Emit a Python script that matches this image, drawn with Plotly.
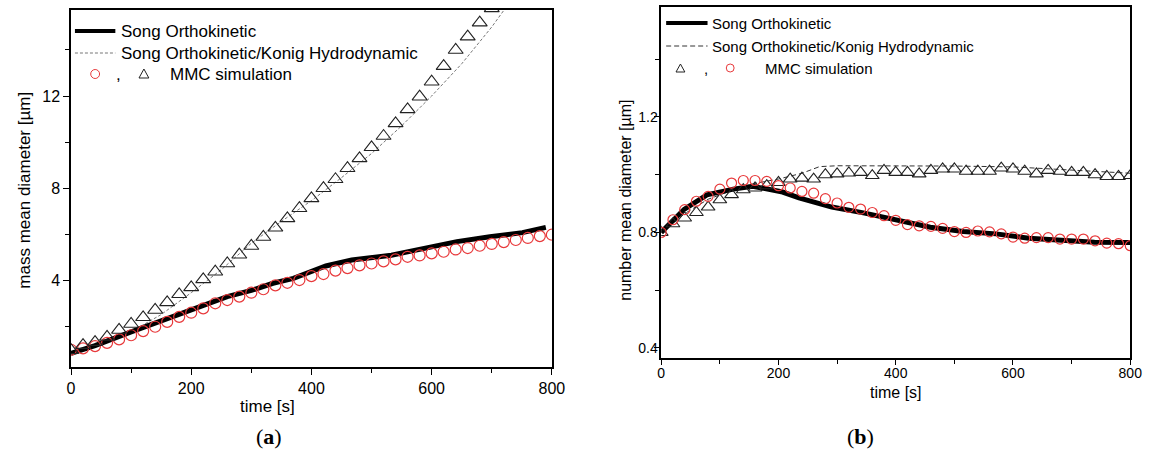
import plotly.graph_objects as go

# ---------------- Panel (a): mass mean diameter ----------------
t_mmc_a = [0, 20, 40, 60, 80, 100, 120, 140, 160, 180, 200, 220, 240, 260, 280, 300, 320, 340, 360, 380,
           400, 420, 440, 460, 480, 500, 520, 540, 560, 580, 600, 620, 640, 660, 680, 700, 720, 740, 760, 780, 800]
circ_a = [0.97, 1.03, 1.13, 1.27, 1.42, 1.60, 1.78, 1.97, 2.18, 2.40, 2.58, 2.77, 2.99, 3.13, 3.28, 3.45,
          3.60, 3.77, 3.88, 4.00, 4.17, 4.26, 4.41, 4.52, 4.64, 4.72, 4.81, 4.90, 5.01, 5.07, 5.16, 5.23,
          5.33, 5.39, 5.49, 5.57, 5.65, 5.74, 5.83, 5.91, 5.97]
t_tri_a = [0, 20, 40, 60, 80, 100, 120, 140, 160, 180, 200, 220, 240, 260, 280, 300, 320, 340,
           360, 380, 400, 420, 440, 460, 480, 500, 520, 540, 560, 580, 600, 620, 640, 660, 680, 700]
tri_a = [0.95, 1.17, 1.30, 1.53, 1.83, 2.09, 2.38, 2.70, 3.03, 3.38, 3.68, 4.03, 4.36, 4.72, 5.10, 5.48,
         5.87, 6.27, 6.68, 7.12, 7.55, 7.99, 8.38, 8.86, 9.29, 9.77, 10.26, 10.81, 11.42, 11.97, 12.62,
         13.30, 14.00, 14.58, 15.19, 15.81]
t_song_a = [0, 40, 100, 140, 200, 260, 300, 336, 370, 424, 467, 533, 587, 642, 697, 751, 790]
song_a = [0.81, 1.15, 1.75, 2.15, 2.70, 3.28, 3.55, 3.86, 4.07, 4.61, 4.87, 5.08, 5.38, 5.67, 5.88, 6.06, 6.29]
t_konig_a = [0, 50, 100, 150, 200, 250, 300, 350, 400, 450, 500, 550, 600, 650, 700, 750]
konig_a = [0.85, 1.20, 1.75, 2.50, 3.45, 4.45, 5.60, 6.55, 7.45, 8.45, 9.50, 10.70, 12.00, 13.40, 15.00, 16.80]

# ---------------- Panel (b): number mean diameter ----------------
t_mmc_b = t_mmc_a
circ_b = [0.800, 0.844, 0.879, 0.908, 0.925, 0.950, 0.971, 0.980, 0.980, 0.977, 0.962, 0.954, 0.942,
          0.936, 0.917, 0.902, 0.887, 0.881, 0.869, 0.858, 0.842, 0.827, 0.823, 0.821, 0.814, 0.803,
          0.800, 0.805, 0.802, 0.795, 0.784, 0.780, 0.782, 0.782, 0.777, 0.777, 0.777, 0.771, 0.763,
          0.761, 0.754]
tri_b = [0.800, 0.830, 0.850, 0.869, 0.888, 0.913, 0.931, 0.948, 0.954, 0.962, 0.973, 0.985, 0.988,
         0.985, 1.000, 1.003, 1.006, 1.008, 0.997, 1.015, 1.008, 1.008, 1.003, 1.015, 1.020, 1.020,
         1.012, 1.012, 1.012, 1.023, 1.020, 1.012, 1.003, 1.015, 1.012, 1.008, 1.008, 1.000, 0.994,
         0.994, 0.997]
t_song_b = [0, 39, 78, 123, 156, 207, 235, 291, 347, 403, 459, 515, 571, 627, 683, 739, 800]
song_b = [0.800, 0.880, 0.930, 0.950, 0.960, 0.940, 0.920, 0.888, 0.867, 0.842, 0.818, 0.803, 0.795,
          0.780, 0.771, 0.766, 0.765]
t_konig_b = [0, 40, 80, 120, 160, 200, 240, 270, 300, 400, 500, 600, 700, 800]
konig_b = [0.800, 0.865, 0.915, 0.945, 0.970, 0.985, 1.005, 1.028, 1.031, 1.031, 1.030, 1.027, 1.015, 1.005]

x_ticks = [0, 200, 400, 600, 800]
x_minor = [100, 300, 500, 700]
ya_ticks = [4, 8, 12]
ya_minor = [2, 6, 10, 14]
yb_ticks = [0.4, 0.8, 1.2]
yb_labels = ["0.4", "0.8", "1.2"]
yb_minor = [0.6, 1.0, 1.4]

W, H = 1160, 452
RED = "#e8393b"
FONT = "Liberation Sans, Arial, sans-serif"


def PX(x):
    return x / W


def PY(y):
    return 1 - y / H


fig = go.Figure()

# Panel a traces
fig.add_trace(go.Scatter(x=t_konig_a, y=konig_a, mode="lines", xaxis="x", yaxis="y",
                         line=dict(color="#777777", width=1, dash="3px,2px"), showlegend=False))
fig.add_trace(go.Scatter(x=t_song_a, y=song_a, mode="lines", xaxis="x", yaxis="y",
                         line=dict(color="black", width=5), showlegend=False))
fig.add_trace(go.Scatter(x=t_mmc_a, y=circ_a, mode="markers", xaxis="x", yaxis="y",
                         marker=dict(symbol="circle-open", size=11, color=RED, line=dict(width=1.2)),
                         showlegend=False))
fig.add_trace(go.Scatter(x=t_tri_a, y=tri_a, mode="markers", xaxis="x", yaxis="y",
                         marker=dict(symbol="triangle-up-open", size=13, color="#222222", line=dict(width=1.1)),
                         showlegend=False))

# Panel b traces
fig.add_trace(go.Scatter(x=t_konig_b, y=konig_b, mode="lines", xaxis="x2", yaxis="y2",
                         line=dict(color="#333333", width=1, dash="5px,3px"), showlegend=False))
fig.add_trace(go.Scatter(x=t_song_b, y=song_b, mode="lines", xaxis="x2", yaxis="y2",
                         line=dict(color="black", width=5), showlegend=False))
fig.add_trace(go.Scatter(x=t_mmc_b, y=tri_b, mode="markers", xaxis="x2", yaxis="y2",
                         marker=dict(symbol="triangle-up-open", size=12, color="#222222", line=dict(width=1.1)),
                         showlegend=False))
fig.add_trace(go.Scatter(x=t_mmc_b, y=circ_b, mode="markers", xaxis="x2", yaxis="y2",
                         marker=dict(symbol="circle-open", size=10, color=RED, line=dict(width=1.2)),
                         showlegend=False))

axis_common = dict(showline=True, mirror=True, linecolor="black", linewidth=1.5, showgrid=False,
                   zeroline=False, ticks="outside", ticklen=6, tickcolor="black", tickwidth=1.3)

fig.update_layout(
    width=W, height=H, margin=dict(l=0, r=0, t=0, b=0),
    paper_bgcolor="white", plot_bgcolor="white",
    font=dict(family=FONT, color="black"),
    xaxis=dict(axis_common, domain=[PX(68), PX(556)], range=[0, 800], tickvals=x_ticks, anchor="y",
               tickfont=dict(size=16),
               minor=dict(tickvals=x_minor, ticks="outside", ticklen=4, tickcolor="black", tickwidth=1.3)),
    yaxis=dict(axis_common, domain=[PY(367), PY(9.5)], range=[0.22, 15.76], tickvals=ya_ticks, anchor="x",
               tickfont=dict(size=16),
               minor=dict(tickvals=ya_minor, ticks="outside", ticklen=4, tickcolor="black", tickwidth=1.3)),
    xaxis2=dict(axis_common, domain=[PX(667), PX(1143)], range=[0, 800], tickvals=x_ticks, anchor="y2",
                tickfont=dict(size=14), ticklen=5,
                minor=dict(tickvals=x_minor, ticks="outside", ticklen=4, tickcolor="black", tickwidth=1.3)),
    yaxis2=dict(axis_common, domain=[PY(358), PY(7)], range=[0.365, 1.581], tickvals=yb_ticks,
                ticktext=yb_labels, anchor="x2", tickfont=dict(size=14), ticklen=5,
                minor=dict(tickvals=yb_minor, ticks="outside", ticklen=4, tickcolor="black", tickwidth=1.3)),
)

# pull right-panel tick labels closer to their axes
try:
    fig.update_layout(xaxis2_ticklabelstandoff=-4, yaxis2_ticklabelstandoff=-6)
except Exception:
    pass

shapes = []
ann = []

# ---- Legend (a) ----
shapes.append(dict(type="line", xref="paper", yref="paper", x0=PX(72), x1=PX(113), y0=PY(31), y1=PY(31),
                   line=dict(color="black", width=4)))
shapes.append(dict(type="line", xref="paper", yref="paper", x0=PX(72), x1=PX(113), y0=PY(53), y1=PY(53),
                   line=dict(color="#777777", width=1, dash="3px,2px")))
shapes.append(dict(type="circle", xref="paper", yref="paper", x0=PX(88), x1=PX(97), y0=PY(69.5), y1=PY(78.5),
                   line=dict(color=RED, width=1)))
shapes.append(dict(type="path", xref="paper", yref="paper",
                   path=f"M {PX(137)},{PY(78)} L {PX(147)},{PY(78)} L {PX(142)},{PY(69)} Z",
                   line=dict(color="#222222", width=1)))
ann.append(dict(text="Song Orthokinetic", x=PX(117), y=PY(31)))
ann.append(dict(text="Song Orthokinetic/Konig Hydrodynamic", x=PX(117), y=PY(53)))
ann.append(dict(text=",", x=PX(112), y=PY(75)))
ann.append(dict(text="MMC simulation", x=PX(166), y=PY(75)))
for a in ann:
    a.update(xref="paper", yref="paper", xanchor="left", yanchor="middle", showarrow=False,
             font=dict(size=17, family=FONT, color="black"))

# ---- Legend (b) ----
shapes.append(dict(type="line", xref="paper", yref="paper", x0=PX(672), x1=PX(714), y0=PY(23), y1=PY(23),
                   line=dict(color="black", width=4)))
shapes.append(dict(type="line", xref="paper", yref="paper", x0=PX(672), x1=PX(714), y0=PY(46), y1=PY(46),
                   line=dict(color="#333333", width=1, dash="5px,3px")))
shapes.append(dict(type="path", xref="paper", yref="paper",
                   path=f"M {PX(682)},{PY(72)} L {PX(691)},{PY(72)} L {PX(686.5)},{PY(64)} Z",
                   line=dict(color="#222222", width=1)))
shapes.append(dict(type="circle", xref="paper", yref="paper", x0=PX(733), x1=PX(741), y0=PY(64), y1=PY(72),
                   line=dict(color=RED, width=1)))
ann_b = [dict(text="Song Orthokinetic", x=PX(717), y=PY(23)),
         dict(text="Song Orthokinetic/Konig Hydrodynamic", x=PX(717), y=PY(46)),
         dict(text=",", x=PX(708), y=PY(69)),
         dict(text="MMC simulation", x=PX(770), y=PY(68))]
for a in ann_b:
    a.update(xref="paper", yref="paper", xanchor="left", yanchor="middle", showarrow=False,
             font=dict(size=15, family=FONT, color="black"))
ann += ann_b

# ---- Axis titles ----
ann.append(dict(text="time [s]", x=PX(267), y=PY(406), xref="paper", yref="paper", showarrow=False,
                xanchor="center", yanchor="middle", font=dict(size=17, family=FONT, color="black")))
ann.append(dict(text="mass mean diameter [µm]", x=PX(20), y=PY(190), xref="paper", yref="paper",
                showarrow=False, textangle=-90, xanchor="center", yanchor="middle",
                font=dict(size=17, family=FONT, color="black")))
ann.append(dict(text="time [s]", x=PX(905), y=PY(392), xref="paper", yref="paper", showarrow=False,
                xanchor="center", yanchor="middle", font=dict(size=16, family=FONT, color="black")))
ann.append(dict(text="number mean diameter [µm]", x=PX(630), y=PY(200), xref="paper", yref="paper",
                showarrow=False, textangle=-90, xanchor="center", yanchor="middle",
                font=dict(size=16, family=FONT, color="black")))

# ---- Panel labels ----
ann.append(dict(text="(<b>a</b>)", x=PX(269), y=PY(436), xref="paper", yref="paper", showarrow=False,
                xanchor="center", yanchor="middle",
                font=dict(size=22, family="Liberation Serif, DejaVu Serif, serif", color="black")))
ann.append(dict(text="(<b>b</b>)", x=PX(869), y=PY(436), xref="paper", yref="paper", showarrow=False,
                xanchor="center", yanchor="middle",
                font=dict(size=22, family="Liberation Serif, DejaVu Serif, serif", color="black")))

fig.update_layout(shapes=shapes, annotations=ann)
fig.write_html("out.html")
